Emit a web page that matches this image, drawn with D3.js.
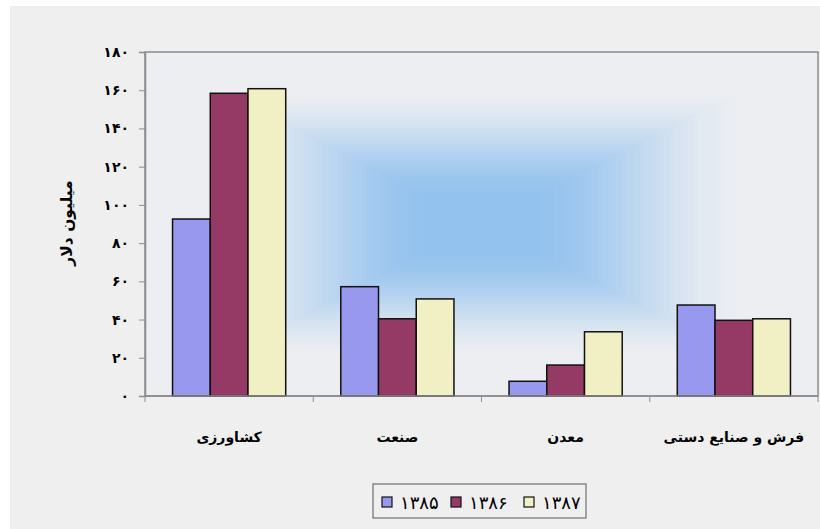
<!DOCTYPE html>
<html>
<head>
<meta charset="utf-8">
<script src="https://cdn.jsdelivr.net/npm/d3@7"></script>
<style>
  body { margin: 0; background: #fff; }
  svg { display: block; }
  text { font-family: "DejaVu Sans", sans-serif; }
</style>
</head>
<body>
<div class="canvas"></div>
<script>
// data
const categories = ["کشاورزی", "صنعت", "معدن", "فرش و صنایع دستی"];
const years = ["۱۳۸۵", "۱۳۸۶", "۱۳۸۷"];
const values1385 = [92.6, 57.2, 7.7, 47.6];
const values1386 = [158.4, 40.4, 16.2, 39.6];
const values1387 = [160.8, 50.8, 33.6, 40.4];
const yTicks = [0, 20, 40, 60, 80, 100, 120, 140, 160, 180];
const yTitle = "میلیون دلار";

const seriesValues = [values1385, values1386, values1387];
const colors = ["#9898ee", "#953a65", "#f1efc4"];

const toPersian = (n) => String(n).replace(/\d/g, (c) => "۰۱۲۳۴۵۶۷۸۹"[+c]);

const width = 820;
const height = 529;
const margin = { top: 52, right: 2, bottom: 133, left: 145 };
const graphWidth = width - margin.left - margin.right;
const graphHeight = height - margin.top - margin.bottom;

const svg = d3
  .select(".canvas")
  .append("svg")
  .attr("width", width)
  .attr("height", height);

// chart background
svg
  .append("rect")
  .attr("x", 10)
  .attr("y", 6)
  .attr("width", width - 10)
  .attr("height", height - 6)
  .attr("fill", "#efefef");

const graph = svg
  .append("g")
  .attr("transform", `translate(${margin.left}, ${margin.top})`);

// box gradient from centre of plot area
const steps = 70;
const colorAt = d3.interpolateRgb("#eceef1", "#94c2ee");
const ease = (t) => {
  const s = Math.max(0, Math.min(1, (t - 0.2) / 0.65));
  return s * s * (3 - 2 * s);
};
graph
  .selectAll("rect.bg")
  .data(d3.range(steps))
  .enter()
  .append("rect")
  .attr("class", "bg")
  .attr("x", (i) => (i / steps) * graphWidth * 0.5)
  .attr("y", (i) => (i / steps) * graphHeight * 0.5)
  .attr("width", (i) => graphWidth * (1 - i / steps))
  .attr("height", (i) => graphHeight * (1 - i / steps))
  .attr("fill", (i) => colorAt(ease(i / steps)));

// plot border
graph
  .append("rect")
  .attr("width", graphWidth)
  .attr("height", graphHeight)
  .attr("fill", "none")
  .attr("stroke", "#8c8c8c")
  .attr("stroke-width", 1.5);

// scales
const x0 = d3.scaleBand().domain(categories).range([0, graphWidth]);
const x1 = d3
  .scaleBand()
  .domain(years)
  .range([0, x0.bandwidth()])
  .paddingOuter(0.73);
const y = d3.scaleLinear().domain([0, 180]).range([graphHeight, 0]);

// bars
const groups = graph
  .selectAll("g.cat")
  .data(categories)
  .enter()
  .append("g")
  .attr("class", "cat")
  .attr("transform", (d) => `translate(${x0(d)},0)`);

groups
  .selectAll("rect")
  .data((d, ci) => years.map((yr, si) => ({ yr, si, v: seriesValues[si][ci] })))
  .enter()
  .append("rect")
  .attr("x", (d) => x1(d.yr))
  .attr("y", (d) => y(d.v))
  .attr("width", x1.bandwidth())
  .attr("height", (d) => y(0) - y(d.v))
  .attr("fill", (d) => colors[d.si])
  .attr("stroke", "#111")
  .attr("stroke-width", 1.5);

// axes
const yAxis = d3
  .axisLeft(y)
  .tickValues(yTicks)
  .tickSize(6)
  .tickPadding(10)
  .tickFormat(toPersian);

const yAxisGroup = graph.append("g").call(yAxis);
yAxisGroup.select(".domain").attr("stroke", "#8c8c8c").attr("stroke-width", 1.5);
yAxisGroup.selectAll(".tick line").attr("stroke", "#8c8c8c");
yAxisGroup
  .selectAll(".tick text")
  .attr("font-size", 14)
  .attr("font-weight", "bold")
  .attr("fill", "#000");

const xAxisGroup = graph
  .append("g")
  .attr("transform", `translate(0,${graphHeight})`);

xAxisGroup
  .append("line")
  .attr("x1", 0)
  .attr("x2", graphWidth)
  .attr("stroke", "#8c8c8c")
  .attr("stroke-width", 1.5);

xAxisGroup
  .selectAll("line.tick")
  .data(d3.range(categories.length + 1))
  .enter()
  .append("line")
  .attr("class", "tick")
  .attr("x1", (i) => i * x0.step())
  .attr("x2", (i) => i * x0.step())
  .attr("y2", 6)
  .attr("stroke", "#8c8c8c");

xAxisGroup
  .selectAll("text")
  .data(categories)
  .enter()
  .append("text")
  .attr("x", (d) => x0(d) + x0.bandwidth() / 2)
  .attr("y", 46)
  .attr("text-anchor", "middle")
  .attr("font-size", 14)
  .attr("font-weight", "bold")
  .text((d) => d);

// y title
svg
  .append("text")
  .attr("transform", "translate(72,223) rotate(-90)")
  .attr("text-anchor", "middle")
  .attr("font-size", 15.5)
  .attr("font-weight", "bold")
  .text(yTitle);

// legend
const legend = svg.append("g").attr("transform", "translate(373,484)");
legend
  .append("rect")
  .attr("width", 213)
  .attr("height", 34)
  .attr("fill", "#efefef")
  .attr("stroke", "#555")
  .attr("stroke-width", 1);

const itemX = [9, 78, 151];
const items = legend
  .selectAll("g.item")
  .data(years)
  .enter()
  .append("g")
  .attr("class", "item")
  .attr("transform", (d, i) => `translate(${itemX[i]},13)`);

items
  .append("rect")
  .attr("width", 10)
  .attr("height", 10)
  .attr("fill", (d, i) => colors[i])
  .attr("stroke", "#111")
  .attr("stroke-width", 1.2);

items
  .append("text")
  .attr("x", 18)
  .attr("y", 12)
  .attr("font-size", 18)
  .text((d) => d);
</script>
</body>
</html>
